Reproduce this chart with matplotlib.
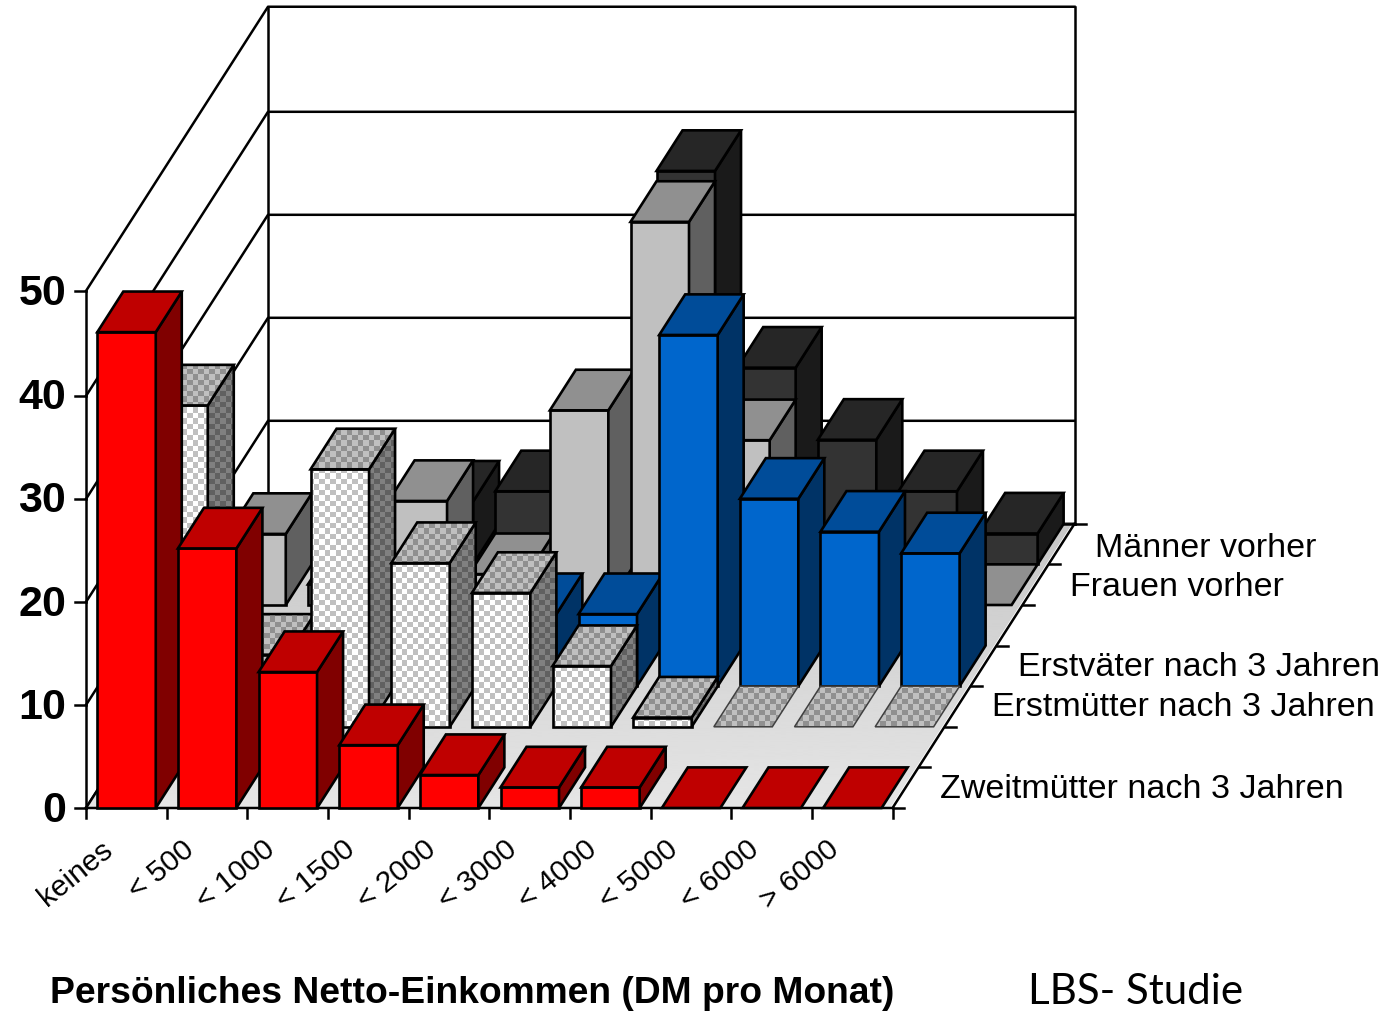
import numpy as np
from matplotlib import pyplot as plt
from matplotlib.colors import ListedColormap
from matplotlib.patches import Polygon

W, H = 1389, 1011

# Percent of each group per income class
categories = ['keines', '< 500', '< 1000', '< 1500', '< 2000', '< 3000', '< 4000', '< 5000', '< 6000', '> 6000']
zweitmuetter = [46.2, 25.2, 13.2, 6.1, 3.2, 2, 2, 0, 0, 0]
erstmuetter = [31.2, 7, 25, 15.9, 13, 5.9, 0.9, 0, 0, 0]
erstvaeter = [2, 2, 2, 5, 7, 7, 34.1, 18.2, 15, 12.9]
frauen = [6.9, 2, 10.1, 3, 18.9, 37.2, 16, 2, 1, 0]
maenner = [2, 2, 6.1, 7.1, 5, 38.2, 19.1, 12.1, 7.1, 3]
value_ticks = [0, 10, 20, 30, 40]
wall_top = 50.2

# Chart box in pixels, depth runs over 7 rows from the front edge to the back wall
X0, Y0 = 86, 808
CAT_W = 80.65
ROW_DX = 26.0
ROW_DY = 40.6
UNIT = 10.3
N_ROWS = 7
BAR_L, BAR_R = 0.14, 0.865
BAR_DEPTH = 1.0


def proj(cat, row, val=0):
    return (X0 + cat * CAT_W + row * ROW_DX, Y0 - row * ROW_DY - val * UNIT)


fig = plt.figure(figsize=(W / 100, H / 100), dpi=100)
ax = fig.add_axes([0, 0, 1, 1])
plt.rcParams['font.family'] = ['Liberation Sans', 'DejaVu Sans']

yy, xx = np.mgrid[0:H, 0:W]
checker = ((xx // 5.5 + yy // 5.5) % 2).astype(int)
z = [10]


def next_z():
    z[0] += 1
    return z[0]


def face(pts, color, flat=False):
    ax.add_patch(Polygon(pts, closed=True, fc=color, ec='k', lw=1.9, joinstyle='miter', zorder=next_z()))


def checker_face(pts, colors, flat=False):
    order = next_z()
    im = ax.imshow(checker, cmap=ListedColormap(colors), extent=(0, W, H, 0), aspect='auto',
                   interpolation='nearest', zorder=order)
    im.set_clip_path(Polygon(pts, closed=True, transform=ax.transData))
    edge, width = ('#404040', 1.1) if flat else ('k', 1.9)
    ax.add_patch(Polygon(pts, closed=True, fc='none', ec=edge, lw=width, joinstyle='miter', zorder=next_z()))


def bar(cat, row, val, colors, pattern=False):
    a, b = cat + BAR_L, cat + BAR_R
    d = row + BAR_DEPTH
    draw = checker_face if pattern else face
    if val > 0:
        draw([proj(a, row), proj(b, row), proj(b, row, val), proj(a, row, val)], colors[0])
        draw([proj(b, row), proj(b, d), proj(b, d, val), proj(b, row, val)], colors[2])
    draw([proj(a, row, val), proj(b, row, val), proj(b, d, val), proj(a, d, val)], colors[1], flat=val == 0)


# walls
line = dict(color='k', lw=1.8, solid_capstyle='projecting')
for v in value_ticks + [wall_top]:
    p0, p1, p2 = proj(0, 0, v), proj(0, N_ROWS, v), proj(10, N_ROWS, v)
    ax.plot([p0[0], p1[0], p2[0]], [p0[1], p1[1], p2[1]], zorder=3, **line)
    ax.plot([p0[0] - 11, p0[0]], [p0[1], p0[1]], zorder=3, **line)
for c, r in [(0, 0), (0, N_ROWS), (10, N_ROWS)]:
    p0, p1 = proj(c, r), proj(c, r, wall_top)
    ax.plot([p0[0], p1[0]], [p0[1], p1[1]], zorder=3, **line)

# floor with a soft vertical shade, stopping just short of its right edge
floor_pts = [proj(0, 0), proj(10, 0), proj(10, N_ROWS), proj(0, N_ROWS)]
shade_pts = [proj(0, 0), proj(9.97, 0), proj(9.97, N_ROWS), proj(0, N_ROWS)]
shade = np.linspace(0.78, 0.90, H)[:, None]
im = ax.imshow(shade, cmap='gray', vmin=0, vmax=1, extent=(0, W, floor_pts[0][1], floor_pts[3][1]),
               aspect='auto', zorder=4)
im.set_clip_path(Polygon(shade_pts, closed=True, transform=ax.transData))
ax.plot([floor_pts[0][0], floor_pts[3][0]], [floor_pts[0][1], floor_pts[3][1]], zorder=5, **line)
ax.plot([floor_pts[3][0], floor_pts[2][0]], [floor_pts[3][1], floor_pts[2][1]], zorder=5, **line)
ax.plot([floor_pts[0][0], floor_pts[1][0], floor_pts[2][0]], [floor_pts[0][1], floor_pts[1][1], floor_pts[2][1]],
        zorder=5, **line)

# tick marks along the front and the right floor edge
for i in range(len(categories) + 1):
    p = proj(i, 0)
    ax.plot([p[0], p[0]], [p[1], p[1] + 10], zorder=5, **line)
for r in range(N_ROWS + 1):
    p = proj(10, r)
    ax.plot([p[0], p[0] + 11], [p[1], p[1]], zorder=5, **line)

# bars, back row first so the nearer ones cover them
groups = [
    (6, maenner, ('#333333', '#262626', '#1a1a1a'), False),
    (5, frauen, ('#c0c0c0', '#909090', '#606060'), False),
    (3, erstvaeter, ('#0066cc', '#004c99', '#003366'), False),
    (2, erstmuetter, (['#ffffff', '#c0c0c0'], ['#c0c0c0', '#909090'], ['#808080', '#606060']), True),
    (0, zweitmuetter, ('#ff0000', '#bf0000', '#800000'), False),
]
for row, values, colors, pattern in groups:
    for i, v in enumerate(values):
        bar(i, row, v, colors, pattern)

# labels
for v in value_ticks + [50]:
    ax.text(X0 - 20, Y0 - 1 - v * (Y0 - proj(0, 0, wall_top)[1]) / 50, str(v), ha='right', va='center_baseline',
            fontsize=31, fontweight='bold')
for i, name in enumerate(categories):
    p = proj(i + 0.42, 0)
    ax.text(p[0] - 19, p[1] + 27, name, rotation=39, rotation_mode='anchor', ha='right', va='top', fontsize=21.5)

row_names = ['Männer vorher', 'Frauen vorher', 'Erstväter nach 3 Jahren', 'Erstmütter nach 3 Jahren',
             'Zweitmütter nach 3 Jahren']
row_label_x = [1095, 1070, 1018, 992, 940]
row_label_y = [545, 584, 664, 704, 786]
for name, lx, ly in zip(row_names, row_label_x, row_label_y):
    ax.text(lx, ly, name, ha='left', va='center_baseline', fontsize=24.5)

ax.text(50, 1003, 'Persönliches Netto-Einkommen (DM pro Monat)', ha='left', va='baseline', fontsize=26.8,
        fontweight='bold')
ax.text(1028, 1004, 'LBS- Studie', ha='left', va='baseline', fontsize=30.3, family=['Lato', 'DejaVu Sans'])

ax.set_xlim(0, W)
ax.set_ylim(H, 0)
ax.axis('off')
plt.savefig('out.png', dpi=100, facecolor='white')
